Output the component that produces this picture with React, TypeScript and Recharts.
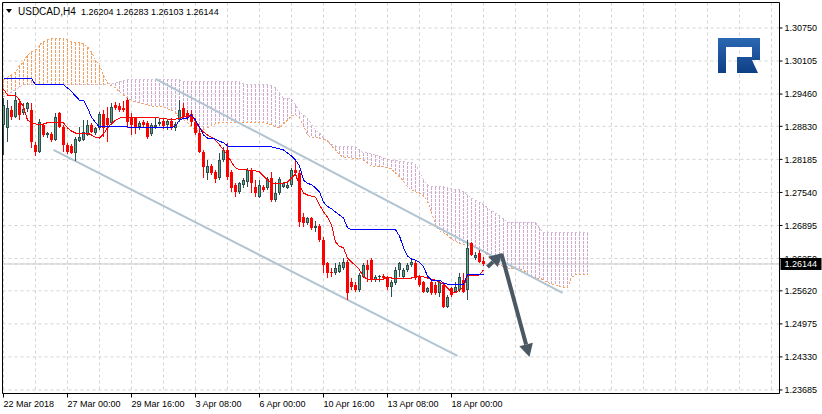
import {
  Bar,
  CartesianGrid,
  ComposedChart,
  Line,
  ReferenceArea,
  ReferenceLine,
  XAxis,
  YAxis,
} from "recharts";

// USDCAD H4, one row per bar: [open, high, low, close]
const candles: [number, number, number, number][] = [
  [1.2886, 1.2938, 1.2827, 1.2925],
  [1.288, 1.2934, 1.2853, 1.2919],
  [1.2915, 1.2923, 1.2895, 1.2901],
  [1.2901, 1.295, 1.2899, 1.2934],
  [1.2929, 1.2934, 1.2895, 1.2905],
  [1.2909, 1.2929, 1.2905, 1.2917],
  [1.2917, 1.293, 1.2911, 1.2929],
  [1.2915, 1.2929, 1.2841, 1.2853],
  [1.2847, 1.2853, 1.2825, 1.2833],
  [1.2833, 1.2897, 1.2831, 1.2892],
  [1.2886, 1.289, 1.2862, 1.2866],
  [1.2866, 1.2872, 1.286, 1.287],
  [1.2868, 1.2872, 1.2853, 1.2856],
  [1.2856, 1.2909, 1.2854, 1.2901],
  [1.2909, 1.2911, 1.288, 1.2882],
  [1.2882, 1.2886, 1.2833, 1.2847],
  [1.2847, 1.2851, 1.2829, 1.2833],
  [1.2845, 1.2849, 1.2829, 1.2831],
  [1.2831, 1.2862, 1.2816, 1.2858],
  [1.2854, 1.2882, 1.2853, 1.2862],
  [1.2856, 1.2895, 1.2854, 1.2872],
  [1.2866, 1.2895, 1.2864, 1.2886],
  [1.2886, 1.289, 1.287, 1.2872],
  [1.287, 1.2882, 1.2866, 1.288],
  [1.288, 1.2911, 1.2876, 1.2907],
  [1.2907, 1.2915, 1.2862, 1.288],
  [1.2899, 1.2921, 1.2853, 1.2886],
  [1.289, 1.2929, 1.2886, 1.2921],
  [1.2925, 1.293, 1.2915, 1.2919],
  [1.2923, 1.2929, 1.2911, 1.2915],
  [1.2919, 1.2932, 1.2911, 1.2915],
  [1.2934, 1.2938, 1.288, 1.2892],
  [1.2901, 1.2909, 1.2866, 1.2886],
  [1.2899, 1.2901, 1.2868, 1.288],
  [1.2882, 1.2893, 1.2876, 1.289],
  [1.2892, 1.2895, 1.288, 1.2886],
  [1.289, 1.2893, 1.2858, 1.2862],
  [1.2868, 1.289, 1.2864, 1.2886],
  [1.2882, 1.2899, 1.2878, 1.2886],
  [1.2888, 1.2899, 1.2884, 1.2892],
  [1.2893, 1.2897, 1.2878, 1.2884],
  [1.2886, 1.2895, 1.2876, 1.2893],
  [1.2893, 1.2899, 1.2876, 1.288],
  [1.288, 1.2892, 1.2874, 1.2888],
  [1.2895, 1.2934, 1.2892, 1.2915],
  [1.2919, 1.2929, 1.2899, 1.2901],
  [1.2909, 1.2915, 1.2895, 1.2899],
  [1.2907, 1.2915, 1.2884, 1.2892],
  [1.2892, 1.2899, 1.2866, 1.287],
  [1.287, 1.288, 1.2831, 1.2833],
  [1.2833, 1.2837, 1.2782, 1.2804],
  [1.2792, 1.2817, 1.2778, 1.2806],
  [1.2806, 1.281, 1.2788, 1.2792],
  [1.2794, 1.2798, 1.2772, 1.278],
  [1.2782, 1.2831, 1.2778, 1.2817],
  [1.2817, 1.2843, 1.2814, 1.2837],
  [1.2837, 1.2851, 1.2778, 1.2784],
  [1.2794, 1.2798, 1.2755, 1.2763],
  [1.2769, 1.2772, 1.2745, 1.2755],
  [1.2755, 1.2774, 1.2751, 1.2772],
  [1.2769, 1.2782, 1.2763, 1.2778],
  [1.2774, 1.2802, 1.2765, 1.2798],
  [1.2798, 1.2802, 1.2753, 1.2772],
  [1.2765, 1.2778, 1.2745, 1.2753],
  [1.2745, 1.2778, 1.2743, 1.2769],
  [1.2765, 1.2769, 1.2755, 1.2759],
  [1.2763, 1.2784, 1.2759, 1.278],
  [1.2782, 1.2794, 1.2735, 1.2739],
  [1.2739, 1.2774, 1.2735, 1.2753],
  [1.2753, 1.2784, 1.2749, 1.278],
  [1.2765, 1.2774, 1.2763, 1.2772],
  [1.2763, 1.2772, 1.2761, 1.2769],
  [1.2769, 1.2802, 1.2765, 1.2798],
  [1.2798, 1.2817, 1.2788, 1.2792],
  [1.2792, 1.2798, 1.2686, 1.2696],
  [1.2706, 1.2714, 1.2686, 1.2694],
  [1.2694, 1.2706, 1.269, 1.2704],
  [1.2704, 1.2706, 1.2681, 1.2685],
  [1.2685, 1.2698, 1.2677, 1.2688],
  [1.2688, 1.2692, 1.2657, 1.2661],
  [1.2661, 1.2667, 1.2597, 1.2612],
  [1.2616, 1.2618, 1.2587, 1.2597],
  [1.2599, 1.2607, 1.2589, 1.2597],
  [1.2597, 1.2616, 1.2593, 1.2607],
  [1.2599, 1.2618, 1.2597, 1.2612],
  [1.2607, 1.2626, 1.2603, 1.2618],
  [1.2618, 1.2622, 1.2544, 1.2558],
  [1.2579, 1.2587, 1.2564, 1.257],
  [1.2574, 1.2579, 1.256, 1.2564],
  [1.2564, 1.2597, 1.256, 1.2593],
  [1.2589, 1.2616, 1.2587, 1.2612],
  [1.2612, 1.2622, 1.2579, 1.2603],
  [1.2622, 1.2626, 1.2579, 1.2585],
  [1.2583, 1.2593, 1.2579, 1.2589],
  [1.2589, 1.2593, 1.2579, 1.259],
  [1.2591, 1.2595, 1.2583, 1.2587],
  [1.2587, 1.2591, 1.2564, 1.257],
  [1.257, 1.2583, 1.255, 1.2579],
  [1.2577, 1.2609, 1.2574, 1.2603],
  [1.2603, 1.2618, 1.2589, 1.2616],
  [1.2589, 1.2607, 1.2585, 1.2603],
  [1.2603, 1.2616, 1.2599, 1.2612],
  [1.2612, 1.2624, 1.2609, 1.2618],
  [1.2616, 1.2622, 1.2583, 1.2587],
  [1.2589, 1.2593, 1.257, 1.2574],
  [1.2579, 1.2581, 1.2558, 1.256],
  [1.256, 1.257, 1.2558, 1.2568],
  [1.2579, 1.2581, 1.2554, 1.2558],
  [1.2574, 1.2579, 1.2554, 1.2558],
  [1.2558, 1.2581, 1.255, 1.2579],
  [1.2574, 1.2579, 1.2529, 1.253],
  [1.253, 1.2554, 1.2529, 1.255],
  [1.2568, 1.257, 1.255, 1.2554],
  [1.256, 1.2579, 1.2558, 1.257],
  [1.2564, 1.2597, 1.256, 1.2589],
  [1.2583, 1.2597, 1.2558, 1.256],
  [1.2564, 1.2661, 1.2544, 1.2646],
  [1.2655, 1.2657, 1.263, 1.2632],
  [1.2626, 1.2638, 1.2622, 1.2632],
  [1.2636, 1.2642, 1.2616, 1.2618],
  [1.26204, 1.26283, 1.26103, 1.26144],
];

const tenkan = [
  1.2956, 1.2944, 1.2944, 1.2944, 1.2934, 1.2921, 1.2895, 1.289, 1.2888, 1.2886,
  1.2888, 1.289, 1.289, 1.289, 1.289, 1.289, 1.288, 1.2874, 1.287, 1.287,
  1.287, 1.287, 1.2866, 1.2862, 1.286, 1.2868, 1.288, 1.2888, 1.2895, 1.2899,
  1.2901, 1.2901, 1.2901, 1.2901, 1.2901, 1.2901, 1.2901, 1.2901, 1.2901, 1.2899,
  1.2899, 1.2897, 1.2895, 1.2897, 1.2899, 1.2901, 1.2903, 1.2905, 1.2892, 1.288,
  1.2872, 1.2866, 1.2862, 1.2856, 1.2847, 1.2837, 1.2827, 1.2813, 1.2802, 1.2798,
  1.2798, 1.2798, 1.2796, 1.2796, 1.2794, 1.2786, 1.2778, 1.2772, 1.2772, 1.2772,
  1.2772, 1.2774, 1.2782, 1.279, 1.2767, 1.2753, 1.2749, 1.2747, 1.2745, 1.273,
  1.2716, 1.2706, 1.2691, 1.2657, 1.2649, 1.2646, 1.2626, 1.2618, 1.2612, 1.2603,
  1.2589, 1.2585, 1.2585, 1.2585, 1.2585, 1.2585, 1.2589, 1.2587, 1.2587, 1.2587,
  1.2587, 1.2587, 1.2587, 1.2589, 1.2589, 1.2589, 1.2587, 1.2585, 1.2583, 1.2579,
  1.2575, 1.2568, 1.2558, 1.2558, 1.2564, 1.2568, 1.2591, 1.2591, 1.2591, 1.2593,
  1.2603,
];

const kijun = [
  1.2977, 1.2977, 1.2977, 1.2977, 1.2977, 1.2977, 1.2977, 1.2977, 1.2964, 1.2964,
  1.2964, 1.2964, 1.2964, 1.2964, 1.2964, 1.2964, 1.2958, 1.2951, 1.2942, 1.2934,
  1.2934, 1.2919, 1.2901, 1.289, 1.2882, 1.2882, 1.2882, 1.2882, 1.2882, 1.2882,
  1.2882, 1.2882, 1.288, 1.288, 1.288, 1.288, 1.288, 1.288, 1.288, 1.288,
  1.288, 1.288, 1.288, 1.2884, 1.2895, 1.2899, 1.2899, 1.2905, 1.2895, 1.2882,
  1.2866, 1.286, 1.286, 1.2858, 1.2854, 1.2851, 1.2845, 1.2843, 1.2843, 1.2843,
  1.2843, 1.2843, 1.2843, 1.2843, 1.2843, 1.2843, 1.2843, 1.2843, 1.2841, 1.2839,
  1.2837, 1.2831, 1.2825, 1.2817, 1.2806, 1.2778, 1.2772, 1.2769, 1.2763, 1.2755,
  1.2735, 1.2727, 1.2722, 1.2716, 1.271, 1.2704, 1.2685, 1.2681, 1.2681, 1.2681,
  1.2681, 1.2681, 1.2681, 1.2681, 1.2681, 1.2681, 1.2681, 1.2681, 1.2681, 1.2669,
  1.2646, 1.263, 1.2624, 1.2622, 1.2618, 1.2609, 1.2591, 1.2583, 1.2583, 1.2583,
  1.2577, 1.2575, 1.2575, 1.2575, 1.2575, 1.2575, 1.2593, 1.2593, 1.2593, 1.2593,
  1.2593,
];

// Senkou spans, shifted 26 bars ahead
const spanA = [
  1.2974, 1.2979, 1.2983, 1.2989, 1.3001, 1.3009, 1.3022, 1.3028, 1.3032, 1.3042,
  1.3048, 1.3052, 1.3055, 1.3055, 1.3055, 1.3055, 1.3052, 1.3048, 1.3046, 1.3046,
  1.3044, 1.3038, 1.3028, 1.3013, 1.3001, 1.2983, 1.2968, 1.2962, 1.2958, 1.295,
  1.2944, 1.2938, 1.2934, 1.293, 1.2929, 1.2927, 1.2925, 1.2923, 1.2921, 1.2921,
  1.2921, 1.2917, 1.2915, 1.2909, 1.2901, 1.2895, 1.289, 1.2882, 1.2876, 1.2872,
  1.2876, 1.288, 1.2884, 1.2888, 1.289, 1.289, 1.289, 1.289, 1.289, 1.289,
  1.289, 1.289, 1.289, 1.289, 1.289, 1.289, 1.2888, 1.2886, 1.2882, 1.288,
  1.2888, 1.2895, 1.2903, 1.2905, 1.2899, 1.2884, 1.2866, 1.2862, 1.2862, 1.286,
  1.2858, 1.2856, 1.2845, 1.2837, 1.2827, 1.2823, 1.2823, 1.2821, 1.2821, 1.2821,
  1.2817, 1.2811, 1.2806, 1.2804, 1.2804, 1.2804, 1.2802, 1.28, 1.2792, 1.2784,
  1.2776, 1.2765, 1.2759, 1.2755, 1.2753, 1.2747, 1.2737, 1.2716, 1.269, 1.2679,
  1.2675, 1.2671, 1.2663, 1.2659, 1.2655, 1.2653, 1.2651, 1.2648, 1.2646, 1.2642,
  1.2638, 1.2632, 1.2626, 1.2618, 1.2612, 1.2609, 1.2607, 1.2605, 1.2605, 1.2603,
  1.2603, 1.2595, 1.2589, 1.2587, 1.2587, 1.2583, 1.2579, 1.2575, 1.2574, 1.257,
  1.2568, 1.2568, 1.2589, 1.2593, 1.2593, 1.2593, 1.2593,
];

const spanB = [
  1.294, 1.2944, 1.295, 1.2954, 1.296, 1.2964, 1.2964, 1.2964, 1.2964, 1.2964,
  1.2964, 1.2964, 1.2964, 1.2964, 1.2964, 1.2964, 1.2964, 1.2964, 1.2964, 1.2964,
  1.2964, 1.2964, 1.2964, 1.2964, 1.2964, 1.2964, 1.2966, 1.2966, 1.2968, 1.297,
  1.2972, 1.2974, 1.2974, 1.2974, 1.2974, 1.2975, 1.2975, 1.2975, 1.2975, 1.2975,
  1.2975, 1.2975, 1.2975, 1.2975, 1.2974, 1.297, 1.297, 1.297, 1.297, 1.297,
  1.297, 1.297, 1.297, 1.297, 1.297, 1.297, 1.297, 1.297, 1.297, 1.297,
  1.2966, 1.2964, 1.2964, 1.2964, 1.2964, 1.2964, 1.2964, 1.2962, 1.2958, 1.2948,
  1.2938, 1.2938, 1.2936, 1.2925, 1.2911, 1.2905, 1.2899, 1.2886, 1.2876, 1.287,
  1.286, 1.2853, 1.2849, 1.2845, 1.2843, 1.2843, 1.2843, 1.2843, 1.2843, 1.2837,
  1.2831, 1.2831, 1.2829, 1.2827, 1.2825, 1.2821, 1.2819, 1.2817, 1.2817, 1.2815,
  1.2815, 1.2813, 1.2813, 1.2808, 1.2794, 1.2778, 1.2769, 1.2765, 1.2765, 1.2765,
  1.2765, 1.2763, 1.2761, 1.2759, 1.2759, 1.2755, 1.2749, 1.2743, 1.2739, 1.2735,
  1.273, 1.2724, 1.2718, 1.2714, 1.2708, 1.2702, 1.2696, 1.2696, 1.2696, 1.2696,
  1.2696, 1.2696, 1.2696, 1.2696, 1.2684, 1.2675, 1.2675, 1.2675, 1.2675, 1.2675,
  1.2675, 1.2675, 1.2675, 1.2675, 1.2675, 1.2675, 1.2675,
];

const priceTicks = [
  1.23685, 1.2433, 1.24975, 1.2562, 1.2625, 1.26895, 1.2754, 1.28185, 1.2883,
  1.2946, 1.30105, 1.3075,
];
const lastPrice = 1.26144;
const dateLabels: Record<number, string> = {
  0: "22 Mar 2018",
  16: "27 Mar 00:00",
  32: "29 Mar 16:00",
  48: "3 Apr 08:00",
  64: "6 Apr 00:00",
  80: "10 Apr 16:00",
  96: "13 Apr 08:00",
  112: "18 Apr 00:00",
};
const barTicks = [
  0, 8, 16, 24, 32, 40, 48, 56, 64, 72, 80, 88, 96, 104, 112, 120, 128, 136,
  144, 152, 160, 168, 176, 184, 192,
];

// channel lines and forecast arrows, in bar / price units
const channelLines = [
  [{ x: 38, y: 1.29755 }, { x: 139.75, y: 1.25578 }],
  [{ x: 12.5, y: 1.28369 }, { x: 113.5, y: 1.24349 }],
];
const arrows = [
  [{ x: 121, y: 1.26085 }, { x: 124.75, y: 1.26358 }],
  [{ x: 124.5, y: 1.26339 }, { x: 131.5, y: 1.24328 }],
];

const X_DOMAIN: [number, number] = [-0.25, 194];
const Y_DOMAIN: [number, number] = [1.23616, 1.31247];
const FONT = "'Liberation Sans', Arial, sans-serif";
const UP_CLOUD = "#f0a060";
const DOWN_CLOUD = "#cfa8cf";

const rows = spanA.map((a, i) => {
  const k = candles[i];
  const b = spanB[i];
  return {
    i,
    range: k ? [k[2], k[1]] : undefined,
    o: k?.[0],
    h: k?.[1],
    l: k?.[2],
    c: k?.[3],
    tenkan: tenkan[i],
    kijun: kijun[i],
    spanA: a,
    spanB: b,
    cloud: [Math.min(a, b), Math.max(a, b)],
  };
});

// snap a bar centre onto a half pixel so 1px strokes stay sharp
const snap = (v: number) => Math.round(v - 0.5) + 0.5;

function Candle(props: any) {
  const { x, y, width, height, payload } = props;
  if (payload?.o == null) return null;
  const top = Math.min(y, y + height);
  const h = Math.abs(height);
  const cx = snap(x + width / 2);
  const span = payload.h - payload.l || 1e-9;
  const py = (v: number) => top + ((payload.h - v) / span) * h;
  const bull = payload.c >= payload.o;
  const yO = Math.round(py(payload.o));
  const yC = Math.round(py(payload.c));
  const bodyTop = Math.min(yO, yC);
  const bodyH = Math.max(1, Math.abs(yO - yC));
  return (
    <g shapeRendering="crispEdges">
      <line
        x1={cx}
        x2={cx}
        y1={Math.round(top)}
        y2={Math.round(top + h)}
        stroke={bull ? "#2f4f4f" : "#ff0000"}
      />
      {bull ? (
        <>
          <rect x={cx - 1.5} y={bodyTop} width={3} height={bodyH} fill="#2f4f4f" />
          {bodyH > 2 && (
            <rect
              x={cx - 0.5}
              y={bodyTop + 1}
              width={1}
              height={bodyH - 2}
              fill="#5fa386"
            />
          )}
        </>
      ) : (
        <rect x={cx - 1.5} y={bodyTop} width={3} height={bodyH} fill="#ff0000" />
      )}
    </g>
  );
}

function Hatch(props: any) {
  const { x, y, width, height, payload } = props;
  if (payload?.spanA == null) return null;
  const top = Math.min(y, y + height);
  const cx = snap(x + width / 2);
  return (
    <line
      x1={cx}
      x2={cx}
      y1={Math.round(top)}
      y2={Math.round(top + Math.abs(height))}
      stroke={payload.spanA >= payload.spanB ? UP_CLOUD : DOWN_CLOUD}
      strokeDasharray="3 1"
      shapeRendering="crispEdges"
    />
  );
}

function Arrow(props: any) {
  const { x1, y1, x2, y2 } = props;
  const ang = Math.atan2(y2 - y1, x2 - x1);
  const len = 13;
  const half = 7;
  const bx = x2 - len * Math.cos(ang);
  const by = y2 - len * Math.sin(ang);
  const px = -Math.sin(ang) * half;
  const py = Math.cos(ang) * half;
  return (
    <g>
      <line x1={x1} y1={y1} x2={bx} y2={by} stroke="#4a5864" strokeWidth={4} />
      <polygon
        points={`${x2},${y2} ${bx + px},${by + py} ${bx - px},${by - py}`}
        fill="#4a5864"
      />
    </g>
  );
}

function DateTick(props: any) {
  const { x, y, payload } = props;
  const label = dateLabels[payload.value];
  if (!label) return null;
  return (
    <g>
      <line x1={x} x2={x} y1={y} y2={y + 4} stroke="#000" />
      <text x={x} y={y + 13} fontSize={9} fontFamily={FONT} fill="#000">
        {label}
      </text>
    </g>
  );
}

function PriceTick(props: any) {
  const { x, y, payload } = props;
  if (payload.value === lastPrice) {
    return (
      <g>
        <rect x={x + 1} y={y - 6} width={41} height={12} fill="#000" />
        <text x={x + 5} y={y + 3.5} fontSize={9} fontFamily={FONT} fill="#fff">
          {payload.value.toFixed(5)}
        </text>
      </g>
    );
  }
  return (
    <g>
      <line x1={x} x2={x + 3} y1={y} y2={y} stroke="#000" />
      <text x={x + 5} y={y + 3.2} fontSize={9} fontFamily={FONT} fill="#000">
        {payload.value.toFixed(5)}
      </text>
    </g>
  );
}

export default function App() {
  return (
    <div
      style={{
        position: "absolute",
        left: 0,
        top: 0,
        width: 822,
        height: 414,
        background: "#fff",
      }}
    >
      <ComposedChart
        width={822}
        height={414}
        data={rows}
        margin={{ top: 2.5, right: 0, left: 2.5, bottom: 0 }}
      >
        <CartesianGrid stroke="#d4d4d4" strokeDasharray="3 3" />
        <XAxis
          dataKey="i"
          type="number"
          domain={X_DOMAIN}
          allowDataOverflow
          ticks={barTicks}
          interval={0}
          height={20.5}
          axisLine={false}
          tickLine={false}
          tickSize={0}
          tickMargin={0}
          tick={<DateTick />}
        />
        <XAxis
          xAxisId="hatch"
          dataKey="i"
          type="number"
          domain={X_DOMAIN}
          allowDataOverflow
          hide
        />
        <YAxis
          orientation="right"
          domain={Y_DOMAIN}
          allowDataOverflow
          ticks={[...priceTicks, lastPrice]}
          interval={0}
          width={42.5}
          axisLine={false}
          tickLine={false}
          tickSize={0}
          tickMargin={0}
          tick={<PriceTick />}
        />
        <ReferenceLine y={lastPrice} stroke="#c8c8c8" zIndex={50} />
        <Bar
          xAxisId="hatch"
          dataKey="cloud"
          barSize={2}
          shape={<Hatch />}
          isAnimationActive={false}
          zIndex={100}
        />
        <Line
          dataKey="spanA"
          stroke="#f4a460"
          strokeDasharray="2 2"
          dot={false}
          activeDot={false}
          isAnimationActive={false}
          shapeRendering="crispEdges"
          zIndex={150}
        />
        <Line
          dataKey="spanB"
          stroke="#d8bfd8"
          strokeDasharray="2 2"
          dot={false}
          activeDot={false}
          isAnimationActive={false}
          shapeRendering="crispEdges"
          zIndex={150}
        />
        {channelLines.map((seg, k) => (
          <ReferenceLine
            key={`ch${k}`}
            segment={seg}
            stroke="#b0c4d2"
            strokeWidth={2}
            zIndex={200}
          />
        ))}
        <Bar
          dataKey="range"
          barSize={4}
          shape={<Candle />}
          isAnimationActive={false}
          zIndex={300}
        />
        <Line
          dataKey="tenkan"
          stroke="#ff0000"
          dot={false}
          activeDot={false}
          isAnimationActive={false}
          shapeRendering="crispEdges"
          zIndex={400}
        />
        <Line
          dataKey="kijun"
          stroke="#0000ff"
          dot={false}
          activeDot={false}
          isAnimationActive={false}
          shapeRendering="crispEdges"
          zIndex={400}
        />
        {arrows.map((seg, k) => (
          <ReferenceLine
            key={`ar${k}`}
            segment={seg}
            shape={Arrow}
            zIndex={600}
          />
        ))}
        <ReferenceArea
          x1={X_DOMAIN[0]}
          x2={X_DOMAIN[1]}
          y1={Y_DOMAIN[0]}
          y2={Y_DOMAIN[1]}
          fill="none"
          stroke="#000"
          zIndex={700}
        />
      </ComposedChart>
      <svg
        width={822}
        height={414}
        style={{ position: "absolute", left: 0, top: 0, pointerEvents: "none" }}
      >
        <defs>
          <linearGradient id="logoBlue" x1="0" y1="0" x2="0" y2="1">
            <stop offset="0%" stopColor="#2b68b3" />
            <stop offset="100%" stopColor="#0e3f84" />
          </linearGradient>
        </defs>
        <polygon points="6,9 12,9 9,13" fill="#000" />
        <text x={18} y={15} fontFamily={FONT} fill="#000">
          <tspan fontSize={10}>USDCAD,H4</tspan>
          <tspan x={81} fontSize={9}>
            1.26204 1.26283 1.26103 1.26144
          </tspan>
        </text>
        <path
          d="M718,38 H760 V60 H752 L758,73 H737 V57 H752 V47 H726 V73 H718 Z"
          fill="url(#logoBlue)"
        />
      </svg>
    </div>
  );
}
